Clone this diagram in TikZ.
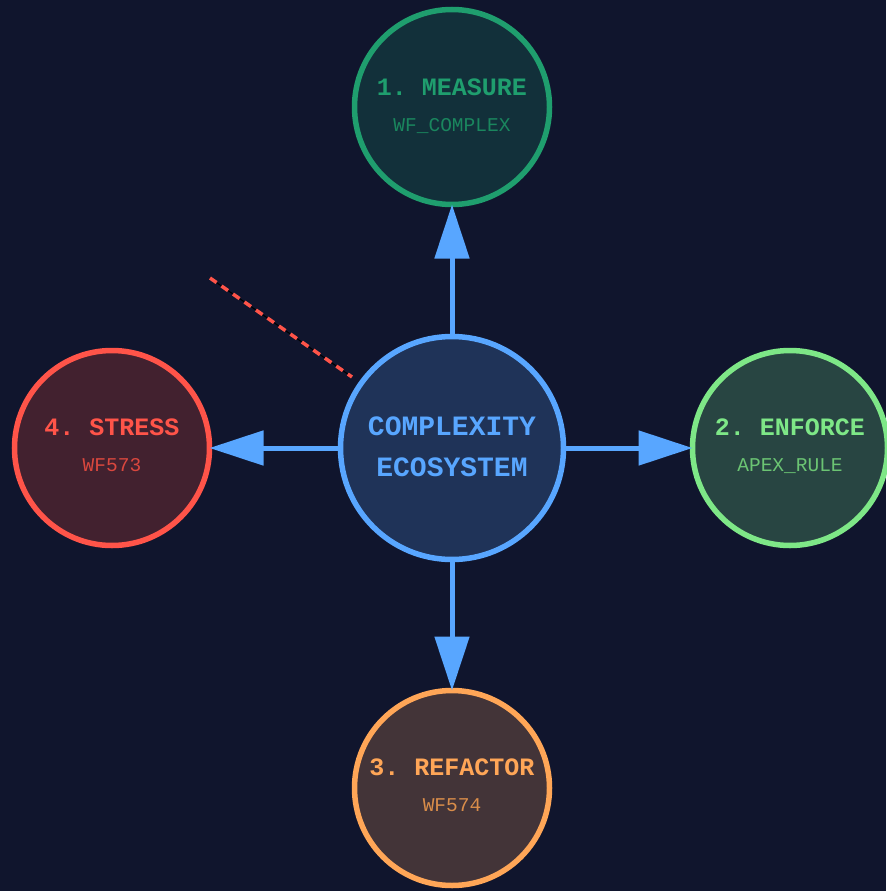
\documentclass[tikz,border=0pt]{standalone}
\usepackage{fontspec}
\setmonofont{Liberation Mono}
\usetikzlibrary{arrows.meta}
\definecolor{bg}{HTML}{10152D}
\definecolor{cblue}{HTML}{58A6FF}
\definecolor{cbluefill}{HTML}{1F3358}
\definecolor{cteal}{HTML}{1F9E6E}
\definecolor{ctealfill}{HTML}{12303A}
\definecolor{cgreen}{HTML}{7EE787}
\definecolor{cgreenfill}{HTML}{284542}
\definecolor{cred}{HTML}{FF5449}
\definecolor{credfill}{HTML}{42212F}
\definecolor{corange}{HTML}{FFA657}
\definecolor{corangefill}{HTML}{433438}
\tikzset{
  ring/.style={circle, line width=5.5pt, minimum size=195pt, inner sep=0pt, outer sep=0pt},
  hub/.style={circle, line width=5.5pt, minimum size=223pt, inner sep=0pt, outer sep=0pt, draw=cblue, fill=cbluefill},
  ttl/.style={font=\ttfamily\bfseries\fontsize{25}{25}\selectfont, inner sep=0pt, anchor=base},
  sub/.style={font=\ttfamily\fontsize{19.5}{19.5}\selectfont, inner sep=0pt, anchor=base},
  hubtxt/.style={font=\ttfamily\bfseries\fontsize{28}{28}\selectfont, inner sep=0pt, anchor=base, text=cblue},
  flow/.style={draw=cblue, line width=5pt, -{Triangle[length=54pt,width=34pt]}}
}
\begin{document}
\begin{tikzpicture}[x=1pt,y=-1pt]
\fill[bg] (0,0) rectangle (886,891);
\useasboundingbox (0,0) rectangle (886,891);

\node[hub] (hub) at (452,448) {};
\node[ring, draw=cteal, fill=ctealfill] (measure) at (452,107) {};
\node[ring, draw=cgreen, fill=cgreenfill] (enforce) at (790,448) {};
\node[ring, draw=corange, fill=corangefill] (refactor) at (452,788) {};
\node[ring, draw=cred, fill=credfill] (stress) at (112,448) {};

\node[hubtxt] (h1) at (452,435) {COMPLEXITY};
\node[hubtxt] (h2) at (452,476) {ECOSYSTEM};

\node[ttl, text=cteal] (t1) at (452,95) {1. MEASURE};
\node[sub, text=cteal!85!black] (s1) at (452,131) {WF\_COMPLEX};
\node[ttl, text=cgreen] (t2) at (790,435) {2. ENFORCE};
\node[sub, text=cgreen!85!black] (s2) at (790,471) {APEX\_RULE};
\node[ttl, text=corange] (t3) at (452,775) {3. REFACTOR};
\node[sub, text=corange!85!black] (s3) at (452,811) {WF574};
\node[ttl, text=cred] (t4) at (112,435) {4. STRESS};
\node[sub, text=cred!85!black] (s4) at (112,471) {WF573};

\draw[flow] (hub) -- (measure);
\draw[flow] (hub) -- (enforce);
\draw[flow] (hub) -- (refactor);
\draw[flow] (hub) -- (stress);

\coordinate (d1) at (210,278);
\coordinate (d2) at (352,377);
\draw[black, line width=1pt] (d1) -- (d2);
\draw[cred, line width=3.5pt, dash pattern=on 8pt off 6pt] (d1) -- (d2);
\end{tikzpicture}
\end{document}
